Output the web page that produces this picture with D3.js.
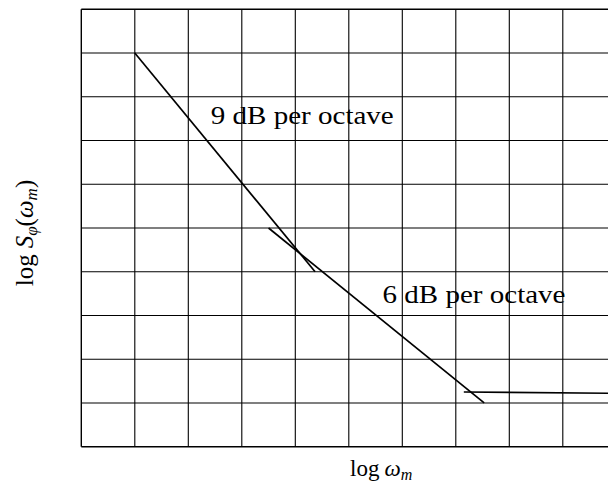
<!DOCTYPE html>
<html><head><meta charset="utf-8">
<script src="https://cdn.jsdelivr.net/npm/d3@7"></script>
<style>body{margin:0;background:#fff}</style>
</head><body>
<svg id="c" width="608" height="489"></svg>
<script>
const gridX = d3.range(0, 11);
const gridY = d3.range(0, 11);
const slope9X = [1, 4.37];
const slope9Y = [9, 4];
const slope6X = [3.5, 7.53];
const slope6Y = [5, 1];
const flatX = [7.15, 10];
const flatY = [1.25, 1.22];
const labels = [
  {text: "9 dB per octave", x: 2.42, y: 7.37},
  {text: "6 dB per octave", x: 5.63, y: 3.28}
];

const svg = d3.select("#c");
const x = d3.scaleLinear().domain([0, 10]).range([81.3, 616.3]);
const y = d3.scaleLinear().domain([0, 10]).range([446.7, 9.3]);

const g = svg.append("g");
g.selectAll("line.v").data(gridX).join("line")
  .attr("x1", d => x(d)).attr("x2", d => x(d))
  .attr("y1", y(0)).attr("y2", y(10))
  .attr("stroke", "#000").attr("stroke-width", d => (d === 0 ? 1.4 : 1.1));
g.selectAll("line.h").data(gridY).join("line")
  .attr("y1", d => y(d)).attr("y2", d => y(d))
  .attr("x1", x(0)).attr("x2", x(10))
  .attr("stroke", "#000").attr("stroke-width", d => (d === 0 || d === 10 ? 1.4 : 1.1));

const line = d3.line().x(d => x(d[0])).y(d => y(d[1]));
[[slope9X, slope9Y], [slope6X, slope6Y], [flatX, flatY]].forEach(([xs, ys]) => {
  svg.append("path")
    .attr("d", line(d3.zip(xs, ys)))
    .attr("fill", "none").attr("stroke", "#000").attr("stroke-width", 1.7);
});

const font = "'Liberation Serif', 'DejaVu Serif', serif";
svg.selectAll("text.lab").data(labels).join("text")
  .attr("x", d => x(d.x)).attr("y", d => y(d.y))
  .attr("font-family", font).attr("font-size", 26)
  .attr("textLength", 183).attr("lengthAdjust", "spacingAndGlyphs")
  .text(d => d.text);

// x axis label
const xl = svg.append("text").attr("x", 350).attr("y", 476)
  .attr("font-family", font).attr("font-size", 23);
xl.append("tspan").text("log");
xl.append("tspan").attr("dx", 5).attr("font-style", "italic").text("ω");
xl.append("tspan").attr("font-style", "italic").attr("font-size", 16).attr("dy", 4).text("m");

// y axis label
const yl = svg.append("text")
  .attr("transform", "translate(33,233) rotate(-90)")
  .attr("text-anchor", "middle")
  .attr("font-family", font).attr("font-size", 25);
yl.append("tspan").text("log");
yl.append("tspan").attr("dx", 6).attr("font-style", "italic").text("S");
yl.append("tspan").attr("font-style", "italic").attr("font-size", 17).attr("dy", 4).text("φ");
yl.append("tspan").attr("dy", -4).text("(");
yl.append("tspan").attr("font-style", "italic").text("ω");
yl.append("tspan").attr("font-style", "italic").attr("font-size", 17).attr("dy", 4).text("m");
yl.append("tspan").attr("dy", -4).text(")");
</script>
</body></html>
